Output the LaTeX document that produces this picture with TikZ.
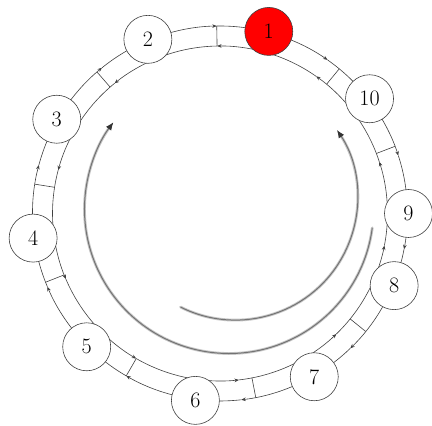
\documentclass[tikz,border=0pt]{standalone}
\usetikzlibrary{arrows.meta}
\newcommand\ringRo{187.5}
\newcommand\ringRi{167.5}
\newcommand\ringRn{188.5}
% #1 = lower angle, #2 = higher angle, #3 = arrow angle
\newcommand\pairlink[3]{%
  \draw[ring,tipA] (#2:\ringRo) arc[start angle=#2, end angle=#3, radius=\ringRo];
  \draw[ring] (#3:\ringRo) arc[start angle=#3, end angle=#1, radius=\ringRo];
  \draw[ring,tipA] (#1:\ringRi) arc[start angle=#1, end angle=#3, radius=\ringRi];
  \draw[ring] (#3:\ringRi) arc[start angle=#3, end angle=#2, radius=\ringRi];
}
\newcommand\rungat[1]{\draw[ring] (#1:\ringRi) -- (#1:\ringRo);}
\begin{document}
\begin{tikzpicture}[x=1pt,y=1pt,
  ring/.style={draw=black!75, line width=0.6pt},
  tipA/.style={-{Stealth[length=4.5pt,width=3.6pt]}},
  vtx/.style={circle, draw=black!75, line width=0.6pt, fill=white,
    minimum size=48pt, inner sep=0pt, font=\fontsize{22}{26}\selectfont},
  flowhalo/.style={line width=2.8pt, draw=black!22, line cap=round},
  flowcore/.style={line width=1pt, draw=black!55,
    -{Latex[length=8pt,width=6.5pt,color=black!80]}},
]
\useasboundingbox (0,0) rectangle (432,426);

% inner grey circulation arrows
\draw[flowhalo, shorten >=6pt] (229,217) ++(-7.5:144.5) arc[start angle=-7.5, end angle=-216.9, radius=144.5];
\draw[flowcore] (229,217) ++(-7.5:144.5) arc[start angle=-7.5, end angle=-216.9, radius=144.5];
\draw[flowhalo, shorten >=6pt] (235.4,228.1) ++(-116.7:122.2) arc[start angle=-116.7, end angle=33.8, radius=122.2];
\draw[flowcore] (235.4,228.1) ++(-116.7:122.2) arc[start angle=-116.7, end angle=33.8, radius=122.2];

\begin{scope}[shift={(220,212.5)}]
  \pairlink{75}{112.5}{91}      \rungat{91}
  \pairlink{112.5}{150}{129}    \rungat{131}
  \pairlink{150}{187.5}{165}    \rungat{171}
  \pairlink{187.5}{225}{203}    \rungat{201.5}
  \pairlink{225}{262.5}{240}    \rungat{240}
  \pairlink{262.5}{300}{276.5}  \rungat{281}
  \pairlink{300}{337.5}{314}    \rungat{321}
  \pairlink{337.5}{360}{349}
  \pairlink{0}{37.5}{18}        \rungat{21}
  \pairlink{37.5}{75}{55}       \rungat{50.5}

  \node[vtx, fill=red] (n1) at (75:\ringRn) {1};
  \node[vtx] (n2) at (112.5:\ringRn) {2};
  \node[vtx] (n3) at (150:\ringRn) {3};
  \node[vtx] (n4) at (187.5:\ringRn) {4};
  \node[vtx] (n5) at (225:\ringRn) {5};
  \node[vtx] (n6) at (262.5:\ringRn) {6};
  \node[vtx] (n7) at (300:\ringRn) {7};
  \node[vtx] (n8) at (337.5:\ringRn) {8};
  \node[vtx] (n9) at (0:\ringRn) {9};
  \node[vtx] (n10) at (37.5:\ringRn) {10};
\end{scope}
\end{tikzpicture}
\end{document}
